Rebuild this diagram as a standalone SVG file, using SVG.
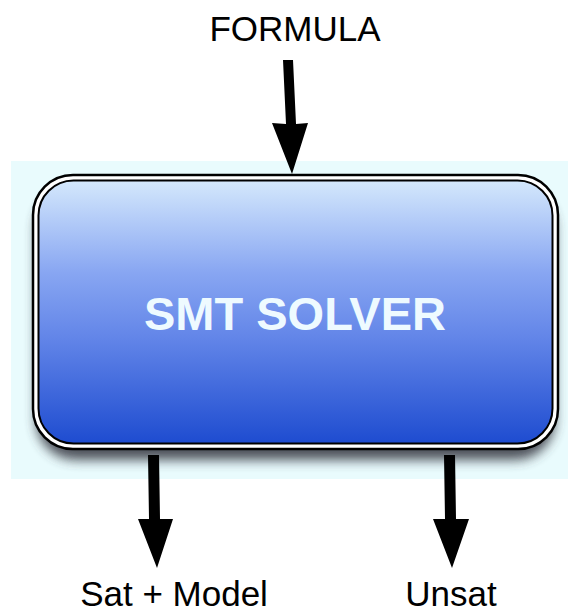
<svg xmlns="http://www.w3.org/2000/svg" width="568" height="615" viewBox="0 0 568 615">
<defs>
<linearGradient id="fillGrad" x1="0" y1="0" x2="0" y2="1">
<stop offset="0" stop-color="#d4e8fc"/>
<stop offset="0.35" stop-color="#88a6f2"/>
<stop offset="0.6" stop-color="#6285e8"/>
<stop offset="1" stop-color="#1e4cd0"/>
</linearGradient>
<filter id="shadow" x="-10%" y="-10%" width="120%" height="130%">
<feGaussianBlur stdDeviation="6"/>
</filter>
<style>
.lbl{font-family:"Liberation Sans",Arial,sans-serif;font-size:35px;fill:#000;text-anchor:middle}
.title{font-family:"Liberation Sans",Arial,sans-serif;font-size:47px;font-weight:bold;fill:#eefaff;text-anchor:middle}
.arrow{fill:#000}
</style>
</defs>
<rect x="11" y="161" width="557" height="318" fill="#e9fbfd"/>
<g id="smt-solver">
<rect x="36" y="188" width="519" height="272" rx="40" fill="#3c404a" opacity="0.9" filter="url(#shadow)"/>
<rect x="33" y="175" width="525" height="274" rx="40" fill="#fff" stroke="#000" stroke-width="2.5"/>
<rect x="38.5" y="180.5" width="514" height="263" rx="35" fill="url(#fillGrad)" stroke="#000" stroke-width="2"/>
<text class="title" x="295" y="330">SMT SOLVER</text>
</g>
<g id="formula"><text class="lbl" x="295" y="41">FORMULA</text></g>
<g id="sat-model"><text class="lbl" x="174" y="606">Sat + Model</text></g>
<g id="unsat"><text class="lbl" x="451" y="606">Unsat</text></g>
<g id="connectors">
<polygon class="arrow" points="283,60 293,60 296,124 308,123 292,174 272,123 286,124"/>
<polygon class="arrow" points="148,455 159,455 160,519 173,519 157,568 138,519 149,519"/>
<polygon class="arrow" points="444,455 455,455 456,519 469,519 452,568 433,519 445,519"/>
</g>
</svg>
